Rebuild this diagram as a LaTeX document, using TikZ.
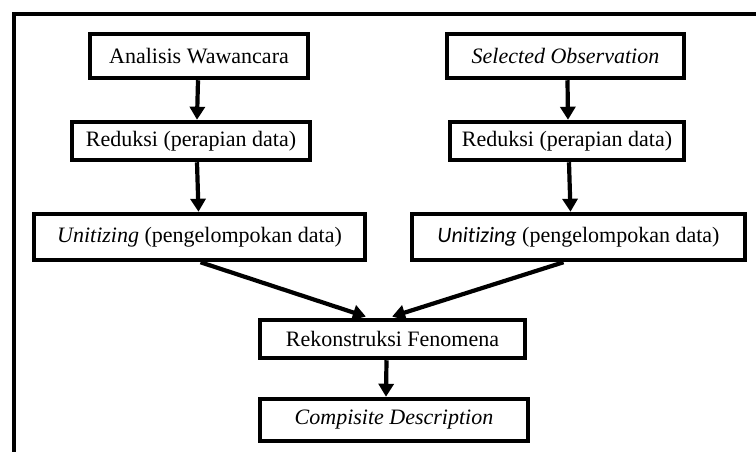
\documentclass[tikz,border=0pt]{standalone}
\usepackage{fontspec}
\setmainfont{Liberation Serif}
\newfontfamily\calib[Ligatures=NoCommon]{Carlito}
\usetikzlibrary{arrows.meta}
\begin{document}
\begin{tikzpicture}[x=1pt,y=-1pt,
  box/.style={draw,line width=4.5pt,rectangle,inner sep=0pt,font=\fontsize{22}{26}\selectfont},
  arr/.style={line width=4.2pt,-{Triangle[length=13pt,width=15pt]}}]
\useasboundingbox (0,0) rectangle (756,452);
% frame
\draw[line width=4.5pt] (14,452) -- (14,14) -- (760,14);
% left column
\node[box,minimum width=218pt,minimum height=44pt] (a1) at (199,56) {Analisis Wawancara};
\node[box,minimum width=238pt,minimum height=38pt] (a2) at (191,141) {Reduksi (perapian data)};
\node[box,minimum width=331pt,minimum height=46pt] (a3) at (199.5,237) {\textit{Unitizing} (pengelompokan data)};
% right column
\node[box,minimum width=237pt,minimum height=44pt] (b1) at (565.5,56) {\textit{Selected Observation}};
\node[box,minimum width=234pt,minimum height=38pt] (b2) at (567,141) {Reduksi (perapian data)};
\node[box,minimum width=333pt,minimum height=46pt] (b3) at (578.5,237) {{\calib\itshape Unitizing} (pengelompokan data)};
% bottom
\node[box,minimum width=265pt,minimum height=38pt] (c) at (392.5,339) {Rekonstruksi Fenomena};
\node[box,minimum width=268pt,minimum height=42pt] (d) at (394,420) {\textit{Compisite Description}};
% arrows
\coordinate (ta) at (364,316);
\coordinate (tb) at (394,316);
\draw[arr] ([xshift=-1pt]a1.south) -- ([xshift=6pt]a2.north);
\draw[arr] ([xshift=6pt]a2.south) -- ([xshift=-1pt]a3.north);
\draw[arr] ([xshift=2pt]b1.south) -- ([xshift=1pt]b2.north);
\draw[arr] ([xshift=2pt]b2.south) -- ([xshift=-8pt]b3.north);
\draw[arr,shorten >=-2pt] ([xshift=1pt]a3.south) -- (ta);
\draw[arr,shorten >=-2pt] ([xshift=-15pt]b3.south) -- (tb);
\draw[arr] ([xshift=-6pt]c.south) -- ([xshift=-8pt]d.north);
\end{tikzpicture}
\end{document}
